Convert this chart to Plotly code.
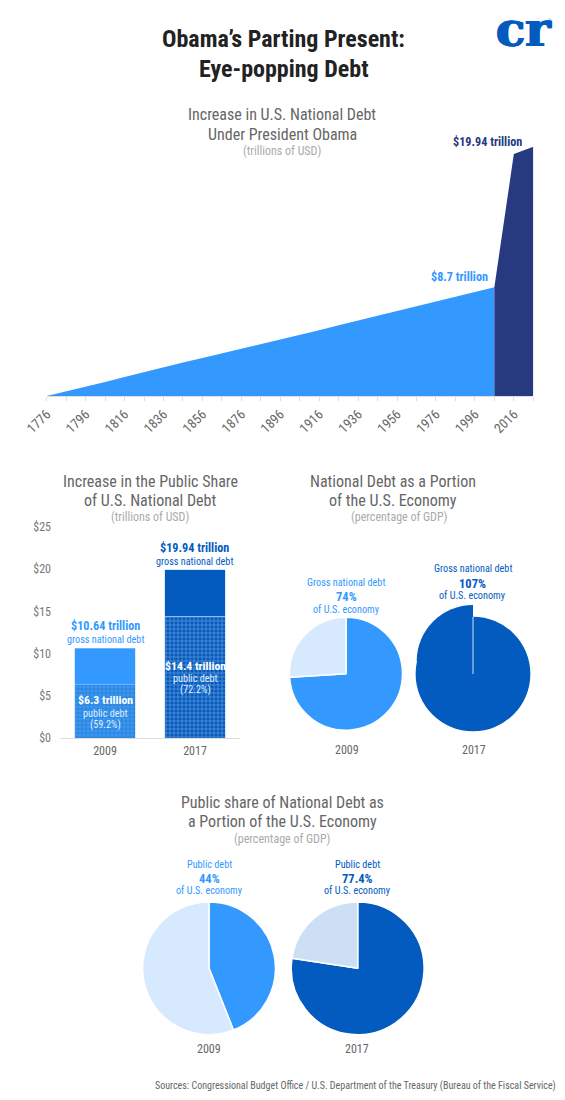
import plotly.graph_objects as go

W, H = 565, 1100

# area chart
years = ["1776", "1786", "1796", "1806", "1816", "1826", "1836", "1846", "1856", "1866", "1876", "1886",
         "1896", "1906", "1916", "1926", "1936", "1946", "1956", "1966", "1976", "1986", "1996", "2006",
         "2016", "2017"]
debt_before = [0, 0.36, 0.72, 1.12, 1.52, 1.92, 2.32, 2.68, 3.04, 3.4, 3.76, 4.16,
               4.54, 4.9, 5.26, 5.65, 6.03, 6.42, 6.8, 7.2, 7.58, 7.94, 8.3, 8.7]
years_obama = ["2006", "2016", "2017"]
debt_obama = [8.7, 19.36, 19.94]

# bars
bar_years = ["2009", "2017"]
public_debt = [6.3, 14.4]
gross_debt = [10.64, 19.94]

# pies
gross_2009 = [74, 26]
gross_2017 = [100]
gross_2017_over = [25, 75]  # the part above 100% sticks out at the top left
public_2009 = [44, 56]
public_2017 = [77.4, 22.6]

BLUE = "#3399ff"
ROYAL = "#035bbf"
NAVY = "#27397f"
GREY = "#666666"
FONT = "Roboto Condensed, Roboto"


def fx(x):
    return x / W


def fy(y):
    return 1 - y / H


def pie_domain(cx, cy, r):
    return dict(x=[fx(cx - r), fx(cx + r)], y=[fy(cy + r), fy(cy - r)])


def pie(values, colors, cx, cy, r, line=1.5, rotation=0):
    return go.Pie(values=values, marker=dict(colors=colors, line=dict(color="white", width=line)),
                  domain=pie_domain(cx, cy, r), sort=False, direction="clockwise", rotation=rotation,
                  textinfo="none", hoverinfo="skip", showlegend=False)


fig = go.Figure()

fig.add_trace(go.Scatter(x=years[:len(debt_before)], y=debt_before, mode="lines", line=dict(width=0),
                         fill="tozeroy", fillcolor=BLUE, xaxis="x", yaxis="y"))
fig.add_trace(go.Scatter(x=years_obama, y=debt_obama, mode="lines", line=dict(width=0),
                         fill="tozeroy", fillcolor=NAVY, xaxis="x", yaxis="y"))

fig.add_trace(go.Bar(x=bar_years, y=public_debt, xaxis="x2", yaxis="y2", width=0.667,
                     marker=dict(color=[BLUE, ROYAL], line=dict(color="#a9d2ff", width=0.5),
                                 pattern=dict(shape="+", size=4, solidity=0.3, fgcolor="white", fgopacity=0.4,
                                              fillmode="overlay"))))
fig.add_trace(go.Bar(x=bar_years, y=[g - p for g, p in zip(gross_debt, public_debt)], xaxis="x2", yaxis="y2",
                     width=0.667, marker=dict(color=[BLUE, ROYAL], line=dict(color="#a9d2ff", width=0.5))))

fig.add_trace(pie(gross_2009, [BLUE, "#d6e9ff"], 346, 673.7, 56.5))
fig.add_trace(pie(gross_2017_over, [ROYAL, "rgba(0,0,0,0)"], 473, 661.3, 56.3, line=0, rotation=-90))
fig.add_trace(pie(gross_2017, [ROYAL], 473, 674, 57.3, line=0))
fig.add_trace(pie(public_2009, [BLUE, "#d6e9ff"], 209, 968.3, 66.4))
fig.add_trace(pie(public_2017, [ROYAL, "#cddff5"], 357.7, 968.3, 66.4))

notes = []


def label(text, x, y, size=12, color=GREY, bold=False, anchor="center"):
    if bold:
        text = "<b>" + text + "</b>"
    notes.append(dict(text=text, x=fx(x), y=fy(y), xref="paper", yref="paper", showarrow=False,
                      xanchor=anchor, yanchor="middle", font=dict(family=FONT, size=size, color=color)))


label("Obama’s Parting Present:", 283.5, 39, 24, "#222222", True)
label("Eye-popping Debt", 283.5, 69, 24, "#222222", True)
notes.append(dict(text="<b>cr</b>", x=fx(523), y=fy(29), xref="paper", yref="paper", showarrow=False,
                  xanchor="center", yanchor="middle",
                  font=dict(family="DejaVu Serif", size=48, color=ROYAL,
                            shadow="1px 0 0 #035bbf, -1px 0 0 #035bbf")))
label("®", 549, 21, 4, ROYAL)

label("Increase in U.S. National Debt", 282, 115, 16)
label("Under President Obama", 282, 134, 16)
label("(trillions of USD)", 282, 151, 12, "#aaaaaa")
label("$19.94 trillion", 487, 142, 12.2, NAVY, True)
label("$8.7 trillion", 459, 277, 12.2, BLUE, True)

label("Increase in the Public Share", 150, 481, 16)
label("of U.S. National Debt", 150, 500, 16)
label("(trillions of USD)", 150, 517, 12, "#aaaaaa")
label("$10.64 trillion", 105, 626, 12.2, BLUE, True)
label("gross national debt", 105, 639, 10.2, BLUE)
label("$19.94 trillion", 194.5, 548, 12.2, ROYAL, True)
label("gross national debt", 194.5, 561, 10.2, ROYAL)
label("$6.3 trillion", 105, 700, 11.8, "white", True)
label("public debt", 105, 713, 10.2, "#ddeeff")
label("(59.2%)", 105, 724.5, 10.2, "#ddeeff")
label("$14.4 trillion", 195, 665.5, 11.8, "white", True)
label("public debt", 195, 678, 10.2, "#ddeeff")
label("(72.2%)", 195, 690, 10.2, "#ddeeff")

label("National Debt as a Portion", 393, 481, 16)
label("of the U.S. Economy", 393, 500, 16)
label("(percentage of GDP)", 399, 517, 12, "#aaaaaa")
label("Gross national debt", 346, 582, 10.2, BLUE)
label("74%", 346, 596, 12.5, BLUE, True)
label("of U.S. economy", 346, 609, 10.2, BLUE)
label("Gross national debt", 473, 569, 10.2, ROYAL)
label("107%", 473, 583, 12.5, ROYAL, True)
label("of U.S. economy", 473, 595, 10.2, ROYAL)
label("2009", 347, 750, 12)
label("2017", 474, 750, 12)

label("Public share of National Debt as", 282, 802, 16)
label("a Portion of the U.S. Economy", 282, 821, 16)
label("(percentage of GDP)", 282, 839, 12, "#aaaaaa")
label("Public debt", 209, 864, 10.2, BLUE)
label("44%", 209, 878, 12.5, BLUE, True)
label("of U.S. economy", 209, 890, 10.2, BLUE)
label("Public debt", 357, 864, 10.2, ROYAL)
label("77.4%", 357, 878, 12.5, ROYAL, True)
label("of U.S. economy", 357, 890, 10.2, ROYAL)
label("2009", 209, 1049, 12)
label("2017", 357, 1049, 12)

label("Sources: Congressional Budget Office / U.S. Department of the Treasury (Bureau of the Fiscal Service)",
      558, 1086, 10, GREY, False, "right")

fig.update_layout(
    template="none",
    width=W, height=H, autosize=False, margin=dict(l=0, r=0, t=0, b=0, pad=0),
    paper_bgcolor="white", plot_bgcolor="white", showlegend=False, barmode="stack",
    annotations=notes,
    font=dict(family=FONT, color=GREY),
    # white seam of the 107% pie
    shapes=[dict(type="line", xref="paper", yref="paper", x0=fx(473), x1=fx(473), y0=fy(617), y1=fy(674),
                 line=dict(color="#cfe2fa", width=1), layer="above")],
    xaxis=dict(domain=[fx(46.7), fx(533.3)], type="category", categoryorder="array", categoryarray=years,
               range=[0, len(years) - 1], tickmode="array", tickvals=years,
               ticktext=[y if i % 2 == 0 and y != "2017" else "" for i, y in enumerate(years)],
               tickangle=-45, ticks="outside", ticklen=4, tickcolor="#dddddd", tickfont=dict(size=13.5, color=GREY),
               showline=True, linecolor="#dddddd", showgrid=False, zeroline=False, anchor="y"),
    yaxis=dict(domain=[fy(396), fy(146.7)], range=[0, 19.94], visible=False, anchor="x"),
    xaxis2=dict(domain=[fx(60), fx(240)], type="category", tickfont=dict(size=12, color=GREY), ticks="",
                ticklabelstandoff=2, showline=True, linecolor="#dddddd", showgrid=False, zeroline=False, anchor="y2"),
    yaxis2=dict(domain=[fy(738), fy(527)], range=[0, 25], dtick=5, tickprefix="$", ticks="", ticklabelstandoff=8,
                tickfont=dict(size=12, color="#777777"), showgrid=False, zeroline=False, showline=False, anchor="x2"),
)

fig.write_html("out.html", config=dict(displayModeBar=False), post_script="document.body.style.margin='0';")
